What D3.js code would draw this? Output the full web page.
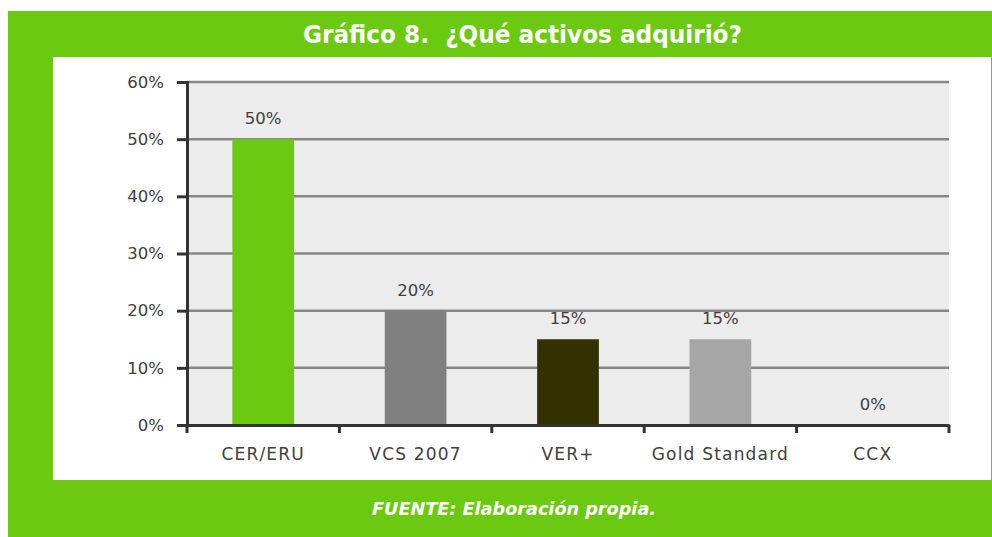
<!DOCTYPE html>
<html><head><meta charset="utf-8">
<script src="https://cdn.jsdelivr.net/npm/d3@7"></script>
<style>body{margin:0;background:#fff;}svg{display:block;}</style>
</head><body>
<svg id="c" width="992" height="537"></svg>
<script>
const categories = ["CER/ERU","VCS 2007","VER+","Gold Standard","CCX"];
const values = [50,20,15,15,0];
const barColors = ["#6cc911","#808080","#343100","#a6a6a6","#a6a6a6"];
const yTicks = [0,10,20,30,40,50,60];
const titleText = "Gráfico 8.  ¿Qué activos adquirió?";
const sourceText = "FUENTE: Elaboración propia.";

(function(){
const svg = d3.select("#c");
const green = "#6cc911";
const font = "'DejaVu Sans', sans-serif";
const txt = "#404040";

// frame
svg.append("rect").attr("x",8).attr("y",11).attr("width",984).attr("height",526).attr("fill",green);
svg.append("rect").attr("x",53).attr("y",57).attr("width",938).attr("height",423).attr("fill","#fff");
svg.append("text").attr("x",522.5).attr("y",43).attr("text-anchor","middle")
  .attr("font-family",font).attr("font-weight","bold").attr("font-size",24)
  .attr("textLength",439).attr("lengthAdjust","spacingAndGlyphs")
  .attr("fill","#fff").style("white-space","pre").text(titleText);
svg.append("text").attr("x",514).attr("y",515).attr("text-anchor","middle")
  .attr("font-family",font).attr("font-weight","bold").attr("font-style","italic").attr("font-size",18)
  .attr("textLength",284).attr("lengthAdjust","spacingAndGlyphs")
  .attr("fill","#fff").text(sourceText);

const pL=187, pR=949, pT=82, pB=425;
const x = d3.scaleBand().domain(categories).range([pL,pR]).paddingInner(0.595).paddingOuter(0.2975);
const xt = d3.scaleBand().domain(categories).range([pL,pR]);
const y = d3.scaleLinear().domain([0,60]).range([pB,pT]);

svg.append("rect").attr("x",pL).attr("y",pT).attr("width",pR-pL).attr("height",pB-pT).attr("fill","#ececec");

// gridlines
svg.append("g").selectAll("line").data(yTicks.filter(d=>d>0)).join("line")
  .attr("x1",pL).attr("x2",pR).attr("y1",d=>y(d)).attr("y2",d=>y(d))
  .attr("stroke","#878787").attr("stroke-width",2.5);

// bars
svg.append("g").selectAll("rect").data(values).join("rect")
  .attr("x",(d,i)=>x(categories[i])).attr("width",x.bandwidth())
  .attr("y",d=>y(d)).attr("height",d=>y(0)-y(d)).attr("fill",(d,i)=>barColors[i]);

// value labels
svg.append("g").selectAll("text").data(values).join("text")
  .attr("x",(d,i)=>x(categories[i])+x.bandwidth()/2).attr("y",d=>y(d)-15)
  .attr("text-anchor","middle").attr("font-family",font).attr("font-size",16.5).attr("fill",txt)
  .text(d=>d+"%");

// y axis
const yAxis = svg.append("g").attr("transform",`translate(${pL},0)`)
  .call(d3.axisLeft(y).tickValues(yTicks).tickFormat(d=>d+"%").tickSize(10).tickPadding(13));
yAxis.select(".domain").attr("stroke","#333").attr("stroke-width",3);
yAxis.selectAll(".tick line").attr("stroke","#333").attr("stroke-width",3);
yAxis.selectAll("text").attr("font-family",font).attr("font-size",16.5).attr("fill",txt);

// x axis
const xAxis = svg.append("g").attr("transform",`translate(0,${pB})`)
  .call(d3.axisBottom(xt).tickSize(0).tickPadding(23));
xAxis.select(".domain").attr("stroke","#333").attr("stroke-width",3);
xAxis.selectAll("text").attr("font-family",font).attr("font-size",17).attr("fill",txt).attr("letter-spacing","1.2px");
const edges = categories.map(c=>xt(c)).concat([pR]);
svg.append("g").selectAll("line").data(edges).join("line")
  .attr("x1",d=>d).attr("x2",d=>d).attr("y1",pB).attr("y2",pB+8)
  .attr("stroke","#333").attr("stroke-width",3);
})();
</script>
</body></html>
